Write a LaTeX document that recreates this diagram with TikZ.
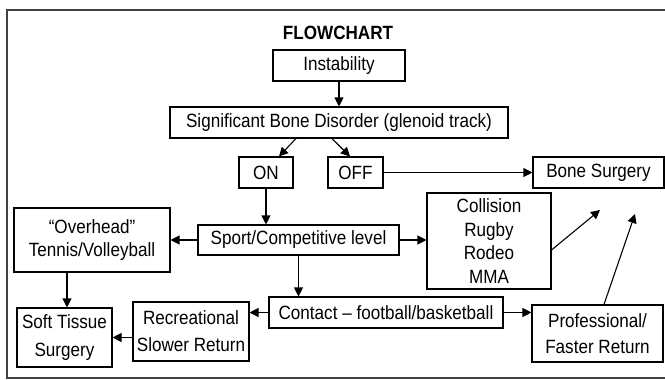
\documentclass[tikz,border=0pt]{standalone}
\usepackage{fontspec}
\setmainfont{Liberation Sans}[FakeStretch=0.89]
\usetikzlibrary{arrows.meta,calc}
\tikzset{
  bx/.style={draw, line width=1.1pt, inner sep=0pt, align=center,
    font=\fontsize{19.2}{24}\selectfont},
  arr/.style={line width=1.1pt, -{Triangle[length=9pt,width=9pt]}},
}
\begin{document}
\begin{tikzpicture}[x=1pt,y=-1pt]
\useasboundingbox (0,0) rectangle (665,380);
\draw[line width=1.6pt, black!75] (670,10) -- (7,10) -- (7,378) -- (670,378);
\node[font=\bfseries\fontsize{19.2}{20}\selectfont] (title) at (338,33) {FLOWCHART};
\node[bx, minimum width=132, minimum height=31] (inst) at (339,65.5) {Instability};
\node[bx, minimum width=338, minimum height=31] (sig) at (339,122.5) {Significant Bone Disorder (glenoid track)};
\node[bx, minimum width=54, minimum height=31] (on) at (266,172.5) {ON};
\node[bx, minimum width=55, minimum height=31] (off) at (355.5,172.5) {OFF};
\node[bx, minimum width=131, minimum height=31] (bone) at (598.5,172.5) {Bone Surgery};
\node[bx, minimum width=156, minimum height=64, font=\fontsize{19.2}{23}\selectfont] (over) at (92,240) {“Overhead”\\Tennis/Volleyball};
\node[bx, minimum width=201, minimum height=30] (sport) at (298.5,240) {Sport/Competitive level};
\node[bx, minimum width=124, minimum height=96, font=\fontsize{19.2}{23.7}\selectfont] (coll) at (489,241) {Collision\\Rugby\\Rodeo\\MMA};
\node[bx, minimum width=234, minimum height=31] (contact) at (386,312.5) {Contact – football/basketball};
\node[bx, minimum width=116, minimum height=59, font=\fontsize{19.2}{27}\selectfont] (rec) at (191,331.5) {Recreational\\Slower Return};
\node[bx, minimum width=95, minimum height=59, font=\fontsize{19.2}{28}\selectfont] (soft) at (64.5,337.5) {Soft Tissue\\Surgery};
\node[bx, minimum width=131, minimum height=57, font=\fontsize{19.2}{26}\selectfont] (prof) at (597.5,333.5) {Professional/\\Faster Return};
\coordinate (t1) at (600,210);
\coordinate (t2) at (635,214);
\coordinate (os) at ($(over.south)+(-25,0)$);
\coordinate (sa) at ($(sig.south)+(-43,0)$);
\coordinate (sb) at ($(sig.south)+(-7,0)$);
\coordinate (ce) at ($(coll.east)+(0,9)$);
\coordinate (pn) at ($(prof.north)+(6.5,0)$);
\draw[arr] (inst.south) -- (sig.north);
\draw[arr] (sa) -- ($(on.north)+(13,0)$);
\draw[arr] (sb) -- ($(off.north)+(-5.5,0)$);
\draw[arr] (off.east) -- (off.east -| bone.west);
\draw[arr] (on.south) -- (on.south |- sport.north);
\draw[arr] (sport.west) -- (sport.west -| over.east);
\draw[arr] (sport.east) -- (sport.east -| coll.west);
\draw[arr] (sport.south) -- (sport.south |- contact.north);
\draw[arr] (contact.west) -- (contact.west -| rec.east);
\draw[arr] (contact.east) -- (contact.east -| prof.west);
\draw[arr] (os) -- (os |- soft.north);
\draw[arr] (soft.east -| rec.west) -- (soft.east);
\draw[arr] (ce) -- (t1);
\draw[arr] (pn) -- (t2);
\end{tikzpicture}
\end{document}
